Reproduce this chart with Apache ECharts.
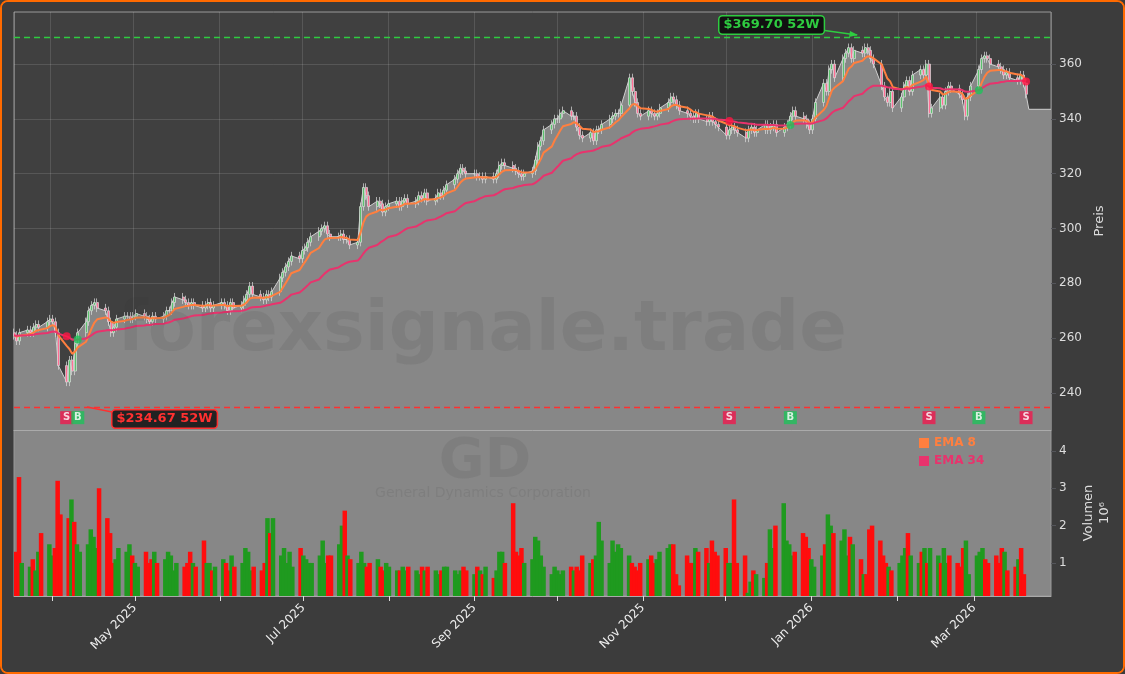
<!DOCTYPE html>
<html><head><meta charset="utf-8">
<script src="https://cdn.jsdelivr.net/npm/echarts@6/dist/echarts.min.js"></script>
<style>html,body{margin:0;padding:0;background:#3c3c3c;}#c{width:1121px;height:670px;border:2px solid #ff6a00;border-radius:8px;overflow:hidden;}</style>
</head><body><div id="c"></div>
<script>
const startDate = '2025-03-19';
const closes = [
261,259,262,263,262,264,265,264,266,267,
266,262,250,244,252,248,258,262,266,270,
272,273,271,270,266,262,264,267,268,268,
267,268,269,268,267,266,268,267,268,270,
270,273,275,274,273,272,273,272,271,272,
273,271,272,273,272,270,273,271,272,274,
276,279,276,275,274,276,275,277,282,284,
286,288,290,289,292,293,295,297,299,300,
301,298,297,297,298,296,296,294,295,308,
315,312,308,310,309,306,308,309,310,308,
310,311,309,310,312,311,313,310,311,313,
312,314,316,318,320,322,321,320,320,319,
319,318,319,318,320,323,324,323,322,321,
320,319,320,321,325,330,332,336,338,340,
340,342,343,341,341,337,334,333,335,332,
336,336,338,340,341,342,342,345,355,350,
346,342,341,343,342,341,342,344,346,348,
347,345,343,342,341,340,342,340,339,341,
339,338,337,334,336,337,336,335,333,336,
337,335,336,338,336,337,338,335,337,338,
341,343,341,340,338,336,340,346,353,350,
358,360,355,362,364,366,362,365,364,366,
365,362,360,352,348,346,350,344,348,352,
354,350,356,358,356,360,342,344,348,345,
350,352,351,349,347,341,348,352,358,362,
363,362,360,359,358,356,357,355,354,356,353,349];
const firstOpen = 262;
const volumes = [
1.3,3.3,1.0,0.9,1.1,0.8,1.3,1.8,1.5,1.2,
1.4,3.2,2.3,2.2,2.7,2.1,1.5,1.3,1.5,1.9,
1.7,1.4,3.0,2.2,1.8,1.0,1.1,1.4,1.3,1.5,
1.2,1.0,0.9,1.3,1.0,1.1,1.3,1.0,1.1,1.3,
1.2,0.8,1.0,0.9,1.0,1.3,1.0,0.9,1.6,1.0,
1.0,0.8,0.9,1.1,1.0,0.8,1.2,0.9,1.0,1.4,
1.3,0.8,0.9,0.8,1.0,2.2,1.8,2.2,1.2,1.4,
1.0,1.3,0.9,1.4,1.2,1.1,1.0,1.0,1.2,1.6,
1.0,1.2,1.2,1.5,2.0,2.4,1.2,1.1,1.0,1.3,
1.0,0.9,1.0,1.1,0.9,0.8,1.0,0.9,0.8,0.8,
0.9,0.8,0.9,0.8,0.7,0.9,0.8,0.9,0.8,0.7,
0.8,0.9,0.9,0.8,0.7,0.8,0.9,0.8,0.7,0.9,
0.8,0.7,0.9,0.6,0.8,1.3,1.3,1.0,2.6,1.3,
1.2,1.4,1.0,1.1,1.7,1.6,1.2,0.9,0.7,0.9,
0.8,0.7,0.8,0.9,0.8,0.9,0.8,1.2,1.0,1.1,
1.2,2.1,1.6,1.0,1.6,1.3,1.5,1.4,1.2,1.0,
0.9,0.8,1.0,1.1,1.2,1.0,1.1,1.3,1.4,1.5,
1.5,0.7,0.4,1.2,1.0,1.0,1.4,1.3,1.4,1.0,
1.6,1.3,1.2,1.4,1.0,1.0,2.7,1.0,1.2,0.2,
0.5,0.8,0.7,0.6,1.0,1.9,1.4,2.0,2.6,1.6,
1.5,1.2,1.3,1.8,1.7,1.4,1.1,0.9,1.2,1.5,
2.3,2.0,1.8,1.6,1.9,1.2,1.7,1.5,1.1,0.7,
0.7,1.9,2.0,1.6,1.2,1.0,0.9,0.8,1.0,1.2,
1.4,1.8,1.2,1.0,1.3,1.4,1.0,1.4,1.2,1.0,
1.4,1.0,1.2,1.0,0.9,1.4,1.6,0.7,1.2,1.3,
1.4,1.1,1.0,1.2,1.0,1.4,1.3,0.8,0.9,1.1,1.4,0.7];
const signals = [[13,'S'],[17,'B'],[184,'S'],[200,'B'],[236,'S'],[248,'B'],[261,'S']];
const priceTicks = [240, 260, 280, 300, 320, 340, 360];
const volumeTicks = [1, 2, 3, 4];
const high52 = 369.70, low52 = 234.67;
const tailValue = 343.5;
const axisEnd = '2026-03-28';

const dates = [];
let d = new Date(startDate + 'T00:00:00Z');
while (dates.length < closes.length) {
  const wd = d.getUTCDay();
  if (wd !== 0 && wd !== 6) dates.push(d.getTime());
  d = new Date(d.getTime() + 86400000);
}
const opens = closes.map((c, i) => i === 0 ? firstOpen : closes[i - 1]);
const candle = closes.map((c, i) => [dates[i], opens[i], c, Math.min(opens[i], c) - 1.5, Math.max(opens[i], c) + 1.5]);
function ema(arr, n) { const k = 2 / (n + 1); const out = []; arr.forEach((v, i) => out.push(i ? v * k + out[i - 1] * (1 - k) : v)); return out; }
const e8 = ema(closes, 8), e34 = ema(closes, 34);
const area = closes.map((c, i) => [dates[i], c]);
const last = dates[dates.length - 1];
area.push([last + 86400000, tailValue], [new Date(axisEnd + 'T00:00:00Z').getTime(), tailValue]);
const vol = volumes.slice(0, closes.length).map((v, i) => ({ value: [dates[i], v], itemStyle: { color: closes[i] >= opens[i] ? '#1f9a1f' : '#ff0d0d' } }));
const sigMarks = signals.map(([i, t]) => ({ value: [dates[i], 231], label: { formatter: t }, itemStyle: { color: t === 'S' ? '#f0184e' : '#1ec25a' } }));
const sigDots = signals.map(([i, t]) => ({ value: [dates[i], e34[i]], itemStyle: { color: t === 'S' ? '#ff1744' : '#1ec25a' } }));

const chart = echarts.init(document.getElementById('c'));
const minD = new Date(startDate + 'T00:00:00Z').getTime(), maxD = new Date(axisEnd + 'T00:00:00Z').getTime();
const xBase = { type: 'time', min: minD, max: maxD, minInterval: 28 * 86400000, maxInterval: 31 * 86400000,
  axisLine: { lineStyle: { color: '#aaa' } } };
const MON = ['Jan','Feb','Mar','Apr','May','Jun','Jul','Aug','Sep','Oct','Nov','Dec'];
chart.setOption({
  animation: false,
  backgroundColor: '#3c3c3c',
  textStyle: { fontFamily: 'DejaVu Sans' },
  legend: { data: [{ name: 'EMA 8', textStyle: { color: '#ff7f3f' } }, { name: 'EMA 34', textStyle: { color: '#e8336d' } }],
    orient: 'vertical', left: 912, top: 430, itemWidth: 10, itemHeight: 10, itemGap: 6, icon: 'rect',
    textStyle: { fontWeight: 'bold', fontSize: 12 } },
  grid: [{ left: 12, right: 72, top: 10, height: 418, show: true, backgroundColor: '#404040', borderColor: '#999' },
         { left: 12, right: 72, top: 428, height: 166, show: true, backgroundColor: '#878787', borderColor: '#999' }],
  xAxis: [Object.assign({ gridIndex: 0, axisLabel: { show: false }, axisTick: { show: false },
            splitLine: { show: true, lineStyle: { color: 'rgba(255,255,255,0.12)' } } }, xBase),
          Object.assign({ gridIndex: 1, axisLabel: { color: '#eee', fontSize: 12, rotate: 45, margin: 10,
            formatter: v => { const t = new Date(v); const m = t.getUTCMonth(); return m % 2 === 0 ? MON[m] + ' ' + t.getUTCFullYear() : ''; } },
            axisTick: { show: true, lineStyle: { color: '#ddd' } }, splitLine: { show: false } }, xBase)],
  yAxis: [{ gridIndex: 0, position: 'right', min: 226.5, max: 379, name: 'Preis', nameLocation: 'middle', nameGap: 38, nameRotate: 90,
            nameTextStyle: { color: '#ddd', fontSize: 13 },
            axisLabel: { color: '#ddd', fontSize: 12, customValues: priceTicks },
            axisTick: { show: true, customValues: priceTicks }, axisLine: { show: false },
            splitLine: { show: true, lineStyle: { color: 'rgba(255,255,255,0.12)' } } },
          { gridIndex: 1, position: 'right', min: 0.115, max: 4.56, name: 'Volumen\n10⁶', nameLocation: 'middle', nameGap: 30, nameRotate: 90,
            nameTextStyle: { color: '#ddd', fontSize: 13, lineHeight: 16 },
            axisLabel: { color: '#ddd', fontSize: 12, customValues: volumeTicks },
            axisTick: { show: true, customValues: volumeTicks }, axisLine: { show: false }, splitLine: { show: false } }],
  series: [
    { type: 'line', data: area, xAxisIndex: 0, yAxisIndex: 0, symbol: 'none', lineStyle: { color: '#cfcfcf', width: 1 },
      areaStyle: { color: '#878787', opacity: 1, origin: 'start' }, z: 1 },
    { type: 'candlestick', data: candle, xAxisIndex: 0, yAxisIndex: 0, barWidth: 2.5,
      itemStyle: { color: '#5cc26e', color0: '#ff6f95', borderColor: '#dddddd', borderColor0: '#dddddd', borderWidth: 0.7 }, z: 3 },
    { name: 'EMA 8', type: 'line', data: e8.map((v, i) => [dates[i], v]), symbol: 'none', lineStyle: { color: '#ff7f3f', width: 2 }, itemStyle: { color: '#ff7f3f' }, z: 4 },
    { name: 'EMA 34', type: 'line', data: e34.map((v, i) => [dates[i], v]), symbol: 'none', lineStyle: { color: '#e8336d', width: 2 }, itemStyle: { color: '#e8336d' }, z: 4,
      markLine: { silent: true, symbol: 'none', label: { show: false },
        data: [{ yAxis: high52, lineStyle: { color: '#2ecc40', type: [6, 4], width: 1.3 } }, { yAxis: low52, lineStyle: { color: '#ff3030', type: [6, 4], width: 1.3 } }] } },
    { type: 'scatter', data: sigDots, symbolSize: 8, z: 5 },
    { type: 'scatter', data: sigMarks, symbol: 'rect', symbolSize: 13, z: 6,
      label: { show: true, position: 'inside', color: '#fff', fontWeight: 'bold', fontSize: 10 } },
    { type: 'bar', data: vol, xAxisIndex: 1, yAxisIndex: 1, barWidth: 4.5, barGap: '0%' }
  ],
  graphic: [
    { type: 'text', x: 480, y: 295, z: 100, style: { text: 'forexsignale.trade', textAlign: 'center', font: 'bold 70px DejaVu Sans', fill: 'rgba(40,40,40,0.09)' } },
    { type: 'text', x: 483, y: 432, z: 100, style: { text: 'GD', textAlign: 'center', font: 'bold 56px DejaVu Sans', fill: 'rgba(40,40,40,0.09)' } },
    { type: 'text', x: 481, y: 484, z: 100, style: { text: 'General Dynamics Corporation', textAlign: 'center', font: '14px DejaVu Sans', fill: 'rgba(40,40,40,0.09)' } },
    { type: 'line', z: 110, shape: { x1: 812, y1: 27, x2: 855, y2: 33 }, style: { stroke: '#2ecc40', lineWidth: 1.5 } },
    { type: 'polygon', z: 110, shape: { points: [[856, 33], [848, 29], [847, 35]] }, style: { fill: '#2ecc40' } },
    { type: 'text', z: 110, left: 716, top: 13, style: { text: '$369.70 52W', font: 'bold 13px DejaVu Sans', fill: '#2ecc40', backgroundColor: '#111', borderColor: '#2ecc40', borderWidth: 1.5, borderRadius: 3, padding: [2, 4] } },
    { type: 'line', z: 110, shape: { x1: 85, y1: 405, x2: 110, y2: 410 }, style: { stroke: '#ff3030', lineWidth: 1.5 } },
    { type: 'text', z: 110, left: 109, top: 407, style: { text: '$234.67 52W', font: 'bold 13px DejaVu Sans', fill: '#ff3030', backgroundColor: '#222', borderColor: '#ff3030', borderWidth: 1.5, borderRadius: 3, padding: [2, 4] } }
  ]
});
</script></body></html>
